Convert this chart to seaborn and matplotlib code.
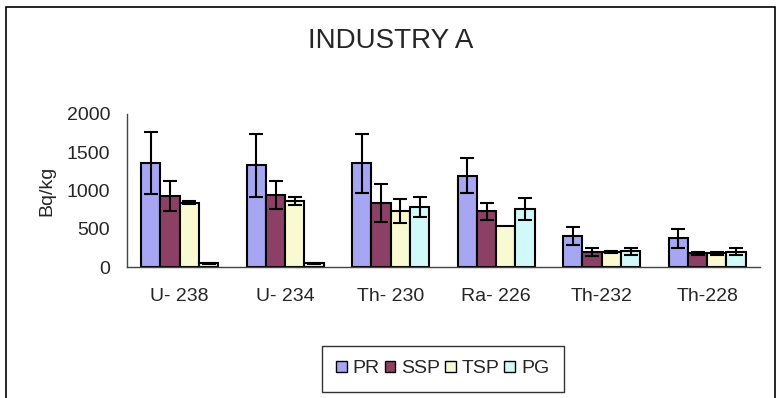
import numpy as np
import pandas as pd
import seaborn as sns
import matplotlib.pyplot as plt
from matplotlib.patches import Rectangle

# data (Bq/kg)
categories = ["U- 238", "U- 234", "Th- 230", "Ra- 226", "Th-232", "Th-228"]
series = ["PR", "SSP", "TSP", "PG"]
pr = [1360, 1330, 1360, 1195, 410, 380]
ssp = [925, 945, 840, 730, 200, 180]
tsp = [840, 865, 730, 540, 200, 180]
pg = [50, 50, 785, 760, 210, 205]
pr_err = [410, 410, 385, 230, 120, 125]
ssp_err = [195, 180, 245, 110, 55, 25]
tsp_err = [20, 55, 155, 0, 10, 25]
pg_err = [5, 5, 135, 145, 45, 50]

colors = ["#9999FF", "#993366", "#FFFFCC", "#CCFFFF"]

sns.set_style("white")
plt.rcParams["font.family"] = ["Liberation Sans", "DejaVu Sans"]

df = pd.DataFrame({
    "nuclide": categories * 4,
    "fertilizer": [s for s in series for _ in categories],
    "value": pr + ssp + tsp + pg,
})

fig = plt.figure(figsize=(7.78, 3.98), dpi=100)
ax = fig.add_axes([0.1632, 0.3284, 0.8136, 0.3852])

sns.barplot(data=df, x="nuclide", y="value", hue="fertilizer", palette=colors,
            errorbar=None, width=0.73, gap=0, edgecolor="black", linewidth=1.5,
            ax=ax, legend=True)

# error bars on each bar
for cont, err in zip(ax.containers, [pr_err, ssp_err, tsp_err, pg_err]):
    xs = np.array([b.get_x() + b.get_width() / 2 for b in cont])
    hs = np.array([b.get_height() for b in cont])
    err = np.array(err)
    keep = err > 0
    ax.errorbar(xs[keep], hs[keep], yerr=err[keep], fmt="none", ecolor="black",
                elinewidth=1.5, capsize=5, capthick=1.5)

ax.set_ylim(0, 2000)
ax.set_yticks([0, 500, 1000, 1500, 2000])
ax.set_xlim(-0.5, len(categories) - 0.5)
ax.set_xticks(np.arange(-0.5, len(categories)), minor=True)
ax.tick_params(axis="x", which="major", length=0, pad=15, labelsize=14)
ax.tick_params(axis="x", which="minor", length=5, width=1, color="#444444",
               direction="out")
ax.tick_params(axis="y", length=5, width=1, color="#444444", direction="out",
               pad=7, labelsize=14)
ax.set_xlabel("")
ax.set_ylabel("Bq/kg", fontsize=14, labelpad=8)
for s in ["top", "right"]:
    ax.spines[s].set_visible(False)
for s in ["left", "bottom"]:
    ax.spines[s].set_color("#444444")
    ax.spines[s].set_linewidth(1)

fig.text(0.502, 0.897, "INDUSTRY A", ha="center", va="center", fontsize=20)

handles, labels = ax.get_legend_handles_labels()
ax.get_legend().remove()
leg = fig.legend(handles, labels, ncol=4, loc="center", bbox_to_anchor=(0.569, 0.073),
                 fontsize=14, handlelength=0.55, handleheight=0.55, handletextpad=0.3,
                 columnspacing=0.25, borderpad=0.75, frameon=True, fancybox=False,
                 edgecolor="black")
leg.get_frame().set_linewidth(1)
for h in leg.legend_handles:
    h.set_linewidth(1)

fig.patches.append(Rectangle((6 / 778, -0.05), 769 / 778, 1.05 - 7 / 398,
                             transform=fig.transFigure, fill=False,
                             edgecolor="black", linewidth=1.2))

fig.savefig("out.png", dpi=100)
